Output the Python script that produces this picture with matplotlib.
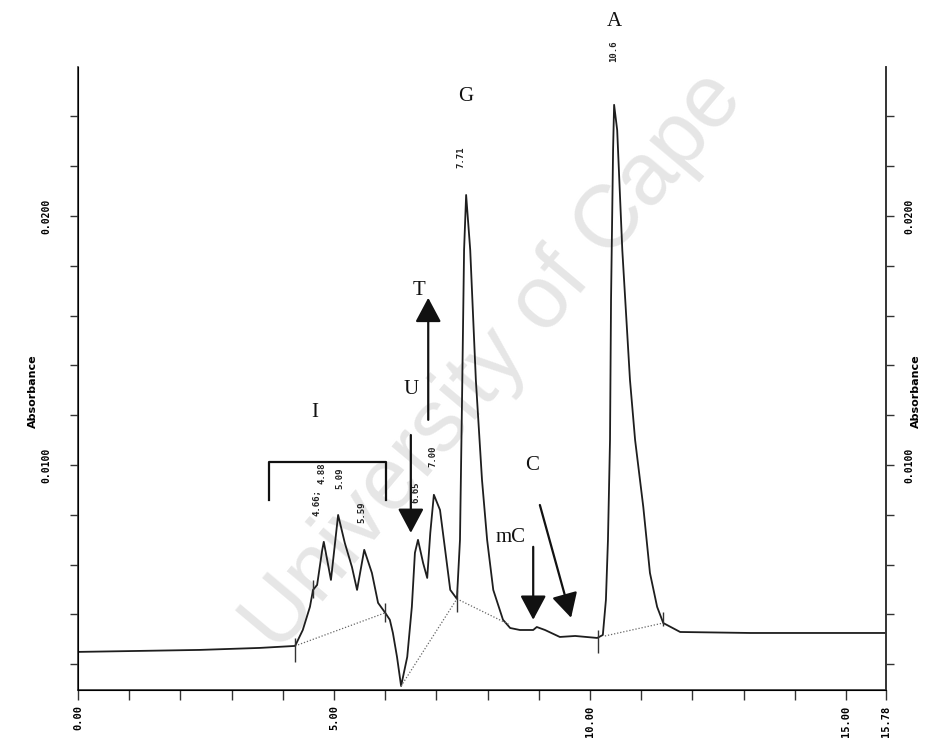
import numpy as np
import matplotlib.pyplot as plt
from matplotlib.ticker import FixedLocator

time = [0.00, 1.21, 2.38, 3.55, 4.24, 4.39, 4.53, 4.59, 4.67, 4.77, 4.80, 4.94,
        5.08, 5.21, 5.35, 5.45, 5.59, 5.74, 5.86, 6.00, 6.09, 6.15, 6.23, 6.31,
        6.43, 6.52, 6.58, 6.64, 6.74, 6.82, 6.88, 6.95, 7.07, 7.17, 7.27, 7.40,
        7.46, 7.50, 7.54, 7.58, 7.66, 7.77, 7.89, 7.99, 8.11, 8.30, 8.44, 8.63,
        8.89, 8.96, 9.12, 9.41, 9.71, 10.14, 10.25, 10.31, 10.35, 10.39, 10.41,
        10.45, 10.47, 10.53, 10.63, 10.78, 10.88, 11.04, 11.17, 11.31, 11.43,
        11.76, 13.13, 15.76]
absorb = [0.00249, 0.00253, 0.00257, 0.00265, 0.00273, 0.00337, 0.00430, 0.00498,
          0.00518, 0.00659, 0.00691, 0.00538, 0.00799, 0.00687, 0.00590, 0.00498,
          0.00659, 0.00566, 0.00446, 0.00406, 0.00378, 0.00325, 0.00229, 0.00112,
          0.00229, 0.00430, 0.00647, 0.00699, 0.00606, 0.00546, 0.00727, 0.00880,
          0.00819, 0.00659, 0.00498, 0.00462, 0.00699, 0.01261, 0.01863, 0.02084,
          0.01863, 0.01341, 0.00940, 0.00699, 0.00498, 0.00378, 0.00345, 0.00337,
          0.00337, 0.00349, 0.00337, 0.00309, 0.00313, 0.00305, 0.00317, 0.00458,
          0.00699, 0.01100, 0.01663, 0.02265, 0.02446, 0.02345, 0.01863, 0.01341,
          0.01100, 0.00831, 0.00566, 0.00430, 0.00365, 0.00329, 0.00325, 0.00325]

# lignes de base en pointille
base_t = [[4.24, 6.00], [6.31, 7.40], [7.40, 8.44], [10.29, 11.43]]
base_a = [[0.00273, 0.00406], [0.00112, 0.00462], [0.00462, 0.00357], [0.00313, 0.00365]]

# marques d'integration
ev_t = [4.24, 4.59, 6.00, 7.40, 10.16, 11.43]
ev_lo = [0.00209, 0.00466, 0.00369, 0.00410, 0.00245, 0.00353]
ev_hi = [0.00305, 0.00538, 0.00446, 0.00498, 0.00337, 0.00410]

# temps de retention affiches
pk_txt = ["4.66;", "4.88", "5.09", "5.59", "6.65", "7.00", "7.71", "10.6"]
pk_t = [4.67, 4.77, 5.12, 5.55, 6.60, 6.93, 7.48, 10.47]
pk_a = [0.00847, 0.00968, 0.00948, 0.00811, 0.00892, 0.01036, 0.02237, 0.02663]

# lettres des bases
let_txt = ["A", "G", "T", "U", "I", "C", "mC"]
let_t = [10.47, 7.58, 6.66, 6.50, 4.63, 8.87, 8.44]
let_a = [0.0278, 0.02478, 0.01699, 0.01301, 0.01209, 0.00996, 0.00707]

# fleches (depart -> pointe)
arr_t0 = [6.84, 6.50, 8.89, 9.02]
arr_a0 = [0.01181, 0.01120, 0.00671, 0.00839]
arr_t1 = [6.84, 6.50, 8.89, 9.63]
arr_a1 = [0.01671, 0.00727, 0.00378, 0.00386]

xt = [0, 5, 10, 15, 15.78]
xt_lbl = ["0.00", "5.00", "10.00", "15.00", "15.78"]
yt = [0.01, 0.02]
yt_lbl = ["0.0100", "0.0200"]

fig = plt.figure(figsize=(9.28, 7.48), dpi=100)
ax = fig.add_axes([78 / 928, 58 / 748, 808 / 928, 623 / 748])
ax.set_facecolor('none')
ax.set_xlim(0, 15.78)
ax.set_ylim(0.00096, 0.02598)

# filigrane
fig.text(0.300, 0.125, "University of Cape", rotation=50, rotation_mode='anchor',
         fontsize=64, color='#e6e6e6', family='Liberation Sans', zorder=-1)

ax.plot(time, absorb, color='#1e1e1e', lw=1.3)
for bt, ba in zip(base_t, base_a):
    ax.plot(bt, ba, color='#666666', lw=0.9, ls=(0, (1, 1.5)))
ax.vlines(ev_t, ev_lo, ev_hi, color='#333333', lw=1)

for s, t, a in zip(pk_txt, pk_t, pk_a):
    ax.text(t, a, s, rotation=90, ha='center', va='center', fontsize=6.5,
            family='DejaVu Sans Mono', fontweight='bold', color='#222222')

for s, t, a in zip(let_txt, let_t, let_a):
    ax.text(t, a, s, ha='center', va='center', fontsize=15,
            family='Liberation Serif', color='#111111', clip_on=False)

for t0, a0, t1, a1 in zip(arr_t0, arr_a0, arr_t1, arr_a1):
    ax.annotate("", xy=(t1, a1), xytext=(t0, a0),
                arrowprops=dict(arrowstyle='-|>,head_length=0.75,head_width=0.4',
                                mutation_scale=20, lw=1.6, color='#111111',
                                shrinkA=0, shrinkB=0))

# crochet I
ax.plot([3.73, 3.73, 6.02, 6.02], [0.00859, 0.01012, 0.01012, 0.00859],
        color='#111111', lw=1.6)

for side in ['left', 'right', 'bottom']:
    ax.spines[side].set_linewidth(1.2)
    ax.spines[side].set_color('#333333')
ax.spines['top'].set_visible(False)

ax.set_xticks(xt)
ax.set_xticklabels(xt_lbl, rotation=90, family='DejaVu Sans Mono',
                   fontweight='bold', fontsize=7.5)
ax.xaxis.set_minor_locator(FixedLocator(list(range(1, 16))))
ax.tick_params(axis='x', which='both', direction='out', length=7, width=1,
               color='#333333', pad=4)

yminor = [0.002 * k for k in range(1, 13)]
ax.set_yticks(yt)
ax.set_yticklabels(yt_lbl, rotation=90, va='center', family='DejaVu Sans Mono',
                   fontweight='bold', fontsize=7)
ax.yaxis.set_minor_locator(FixedLocator(yminor))
ax.tick_params(axis='y', which='both', direction='out', length=6, width=1,
               color='#333333', pad=13)
ax.set_ylabel("Absorbance", fontsize=8, fontweight='bold')
ax.yaxis.set_label_coords(-0.05, 0.48)

ax2 = ax.twinx()
ax2.set_facecolor('none')
ax2.set_ylim(ax.get_ylim())
ax2.spines['top'].set_visible(False)
ax2.spines['right'].set_linewidth(1.2)
ax2.spines['right'].set_color('#333333')
ax2.set_yticks(yt)
ax2.set_yticklabels(yt_lbl, rotation=90, va='center', family='DejaVu Sans Mono',
                    fontweight='bold', fontsize=7)
ax2.yaxis.set_minor_locator(FixedLocator(yminor))
ax2.tick_params(axis='y', which='both', direction='out', length=6, width=1,
                color='#333333', pad=7)
ax2.set_ylabel("Absorbance", fontsize=8, fontweight='bold', rotation=90)
ax2.yaxis.set_label_coords(1.031, 0.48)

fig.savefig("out.png", dpi=100)
